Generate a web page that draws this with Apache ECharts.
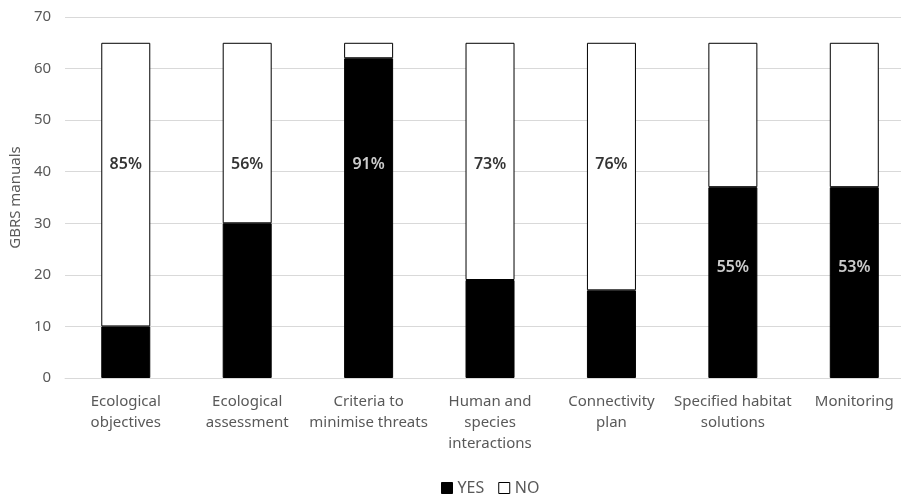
<!DOCTYPE html>
<html>
<head>
<meta charset="utf-8">
<script src="https://cdn.jsdelivr.net/npm/echarts@6/dist/echarts.min.js"></script>
<style>
  html, body { margin: 0; padding: 0; background: #fff; overflow: hidden; }
  #chart { width: 916px; height: 494px; }
</style>
</head>
<body>
<div id="chart"></div>
<script>
var categories = ['Ecological\nobjectives', 'Ecological\nassessment', 'Criteria to\nminimise threats',
  'Human and\nspecies\ninteractions', 'Connectivity\nplan', 'Specified habitat\nsolutions', 'Monitoring'];
var yesValues = [10, 30, 62, 19, 17, 37, 37];
var noValues = [55, 35, 3, 46, 48, 28, 28];
var pctLabels = ['85%', '56%', '91%', '73%', '76%', '55%', '53%'];
var pctLabelPos = [41.5, 41.5, 41.5, 41.5, 41.5, 21.5, 21.5];
var yTicks = [0, 10, 20, 30, 40, 50, 60, 70];

var font = '"Noto Sans", Lato, sans-serif';
var grey = '#595959';

// plot runs a bit past the right edge of the window, like the original
var chart = echarts.init(document.getElementById('chart'));

// labels sit inside black bar -> white text, otherwise black
var labelData = pctLabels.map(function (t, i) {
  var inYes = pctLabelPos[i] < yesValues[i];
  return {
    value: [i, pctLabelPos[i]],
    label: { color: inYes ? '#fff' : '#000' }
  };
});

chart.setOption({
  animation: false,
  textStyle: { fontFamily: font },
  grid: { left: 64, top: 17, right: 1, bottom: 116, containLabel: false },
  legend: {
    top: 475,
    left: 436,
    itemWidth: 11,
    itemHeight: 11,
    itemGap: 14,
    textStyle: { color: grey, fontSize: 16, fontFamily: font, padding: [0, 0, 0, 0] },
    data: [
      { name: 'YES', icon: 'rect', itemStyle: { color: '#000', borderColor: '#000', borderWidth: 1 } },
      { name: 'NO', icon: 'rect', itemStyle: { color: '#fff', borderColor: '#000', borderWidth: 1 } }
    ]
  },
  xAxis: {
    type: 'category',
    data: categories,
    axisLine: { lineStyle: { color: '#d9d9d9' } },
    axisTick: { show: false },
    axisLabel: {
      color: grey, fontSize: 15, lineHeight: 21, margin: 13, interval: 0
    }
  },
  yAxis: {
    type: 'value',
    min: 0,
    max: yTicks[yTicks.length - 1],
    interval: 10,
    name: 'GBRS manuals',
    nameLocation: 'middle',
    nameGap: 39,
    nameTextStyle: { color: grey, fontSize: 15 },
    axisLine: { show: false },
    axisTick: { show: false },
    axisLabel: { color: grey, fontSize: 15, margin: 14 },
    splitLine: { lineStyle: { color: '#d9d9d9', width: 1 } }
  },
  series: [
    {
      name: 'YES',
      type: 'bar',
      stack: 'total',
      barWidth: 49,
      data: yesValues,
      itemStyle: { color: '#000', borderColor: '#000', borderWidth: 1 }
    },
    {
      name: 'NO',
      type: 'bar',
      stack: 'total',
      barWidth: 49,
      data: noValues,
      itemStyle: { color: '#fff', borderColor: '#000', borderWidth: 1 }
    },
    {
      name: 'pct',
      type: 'scatter',
      symbolSize: 0,
      silent: true,
      data: labelData,
      label: {
        show: true,
        position: 'inside',
        fontSize: 16,
        fontWeight: 600,
        fontFamily: font,
        formatter: function (p) { return pctLabels[p.dataIndex]; }
      },
      z: 10
    }
  ]
});
</script>
</body>
</html>
